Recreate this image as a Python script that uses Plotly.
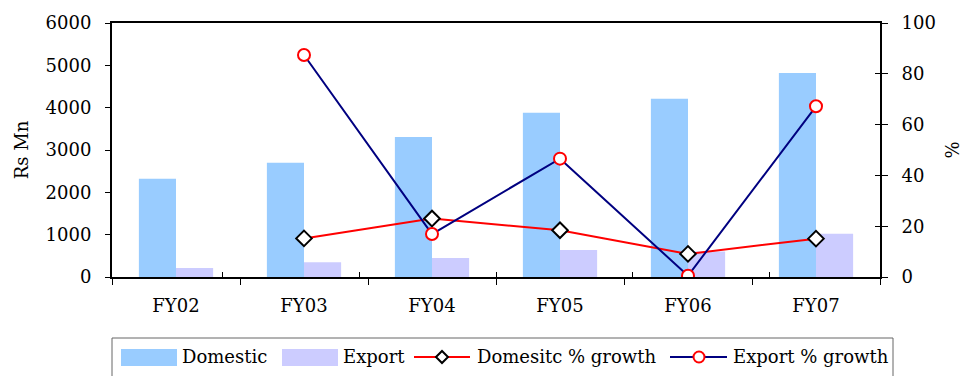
import plotly.graph_objects as go

categories = ["FY02", "FY03", "FY04", "FY05", "FY06", "FY07"]
domestic = [2320, 2700, 3310, 3880, 4210, 4820]
export = [210, 350, 450, 640, 600, 1020]
dom_growth = [None, 15.2, 23.0, 18.4, 9.1, 15.1]
exp_growth = [None, 87.4, 16.9, 46.6, 0.5, 67.2]
left_ticks = [0, 1000, 2000, 3000, 4000, 5000, 6000]
right_ticks = [0, 20, 40, 60, 80, 100]
legend_names = ["Domestic", "Export", "Domesitc % growth", "Export % growth"]

FONT = "'DejaVu Serif'"
FS = 18
W, H = 963, 376
ML, MR, MT, MB = 112, 83, 23, 99
PW, PH = W - ML - MR, H - MT - MB

C_DOM, C_EXP, C_RED, C_NAVY = "#99CCFF", "#CCCCFF", "#FF0000", "#000080"


def px(x):
    return (x - ML) / PW


def py(y):
    return (H - MB - y) / PH


fig = go.Figure()
fig.add_trace(go.Bar(x=categories, y=domestic, name=legend_names[0],
                     marker=dict(color=C_DOM, line=dict(width=0))))
fig.add_trace(go.Bar(x=categories, y=export, name=legend_names[1],
                     marker=dict(color=C_EXP, line=dict(width=0))))
fig.add_trace(go.Scatter(x=categories, y=dom_growth, name=legend_names[2],
                         yaxis="y2", mode="lines+markers",
                         line=dict(color=C_RED, width=2),
                         marker=dict(symbol="diamond", size=12, color="white",
                                     line=dict(color="black", width=2))))
fig.add_trace(go.Scatter(x=categories, y=exp_growth, name=legend_names[3],
                         yaxis="y2", mode="lines+markers",
                         line=dict(color=C_NAVY, width=2),
                         marker=dict(symbol="circle", size=12, color="white",
                                     line=dict(color=C_RED, width=2))))
# invisible helper trace so the overlay axes draw their inner tick marks
fig.add_trace(go.Scatter(x=categories, y=[None] * len(categories), xaxis="x2",
                         yaxis="y3", showlegend=False, hoverinfo="skip"))

# custom legend (box, swatches, line keys, labels)
shapes = []
annotations = []
cy = 357
shapes.append(dict(type="rect", xref="paper", yref="paper",
                   x0=px(112), x1=px(893), y0=py(338), y1=py(380),
                   line=dict(color="#666666", width=1), fillcolor="white", layer="above"))
shapes.append(dict(type="rect", xref="paper", yref="paper",
                   x0=px(121), x1=px(177), y0=py(349), y1=py(366),
                   line=dict(width=0), fillcolor=C_DOM))
shapes.append(dict(type="rect", xref="paper", yref="paper",
                   x0=px(282), x1=px(338), y0=py(349), y1=py(366),
                   line=dict(width=0), fillcolor=C_EXP))
shapes.append(dict(type="line", xref="paper", yref="paper",
                   x0=px(414), x1=px(470), y0=py(cy), y1=py(cy),
                   line=dict(color=C_RED, width=2)))
d = 6
shapes.append(dict(type="path", xref="paper", yref="paper",
                   path=(f"M {px(442-d)} {py(cy)} L {px(442)} {py(cy-d)} "
                         f"L {px(442+d)} {py(cy)} L {px(442)} {py(cy+d)} Z"),
                   line=dict(color="black", width=2), fillcolor="white"))
shapes.append(dict(type="line", xref="paper", yref="paper",
                   x0=px(670), x1=px(727), y0=py(cy), y1=py(cy),
                   line=dict(color=C_NAVY, width=2)))
r = 5.5
shapes.append(dict(type="circle", xref="paper", yref="paper",
                   x0=px(699 - r), x1=px(699 + r), y0=py(cy + r), y1=py(cy - r),
                   line=dict(color=C_RED, width=2), fillcolor="white"))
for name, x0 in zip(legend_names, [180, 341, 475, 731]):
    annotations.append(dict(text=name, xref="paper", yref="paper",
                            x=px(x0), y=py(cy), xanchor="left", yanchor="middle",
                            showarrow=False, font=dict(family=FONT, size=FS, color="black")))

fig.update_layout(
    width=W, height=H,
    margin=dict(l=ML, r=MR, t=MT, b=MB, autoexpand=False),
    paper_bgcolor="white", plot_bgcolor="white",
    font=dict(family=FONT, size=FS, color="black"),
    barmode="group", bargap=0.42, bargroupgap=0,
    showlegend=False,
    shapes=shapes, annotations=annotations,
    xaxis=dict(type="category", showline=True, linecolor="black", linewidth=2,
               mirror=True, ticks="outside", tickson="boundaries", ticklen=6,
               tickcolor="black", showgrid=False, zeroline=False,
               ticklabelstandoff=11,
               tickfont=dict(family=FONT, size=FS)),
    xaxis2=dict(type="category", overlaying="x", side="bottom",
                categoryorder="array", categoryarray=categories,
                ticks="inside", tickson="boundaries", ticklen=5, tickcolor="black",
                showticklabels=False, showline=False, showgrid=False, zeroline=False),
    yaxis=dict(range=[0, 6000], tickvals=left_ticks, showline=True,
               linecolor="black", linewidth=2, ticks="outside", ticklen=5,
               tickcolor="black", showgrid=False, zeroline=False,
               ticklabelstandoff=10,
               tickfont=dict(family=FONT, size=FS),
               title=dict(text="Rs Mn", standoff=12, font=dict(family=FONT, size=FS))),
    yaxis2=dict(range=[0, 100], tickvals=right_ticks, overlaying="y", side="right",
                showline=True, linecolor="black", linewidth=2, ticks="outside",
                ticklen=6, tickcolor="black", showgrid=False, zeroline=False,
                ticklabelstandoff=10,
                tickfont=dict(family=FONT, size=FS),
                title=dict(text="%", standoff=14, font=dict(family=FONT, size=FS))),
    yaxis3=dict(range=[0, 100], tickvals=right_ticks, overlaying="y", side="right",
                showline=False, ticks="inside", ticklen=5, tickcolor="black",
                showticklabels=False, showgrid=False, zeroline=False),
)

fig.write_html("out.html")
